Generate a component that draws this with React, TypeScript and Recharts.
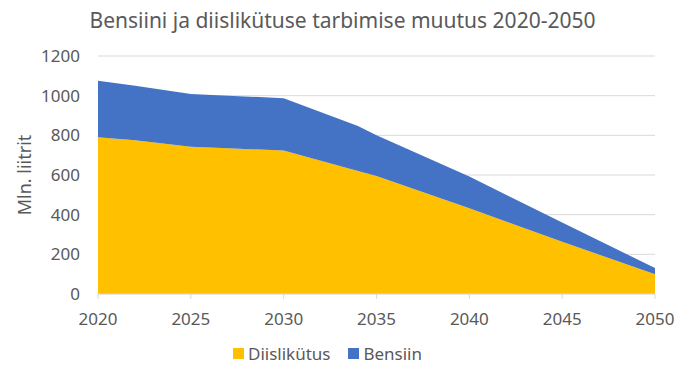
import { Area, AreaChart, CartesianGrid, Legend, XAxis, YAxis } from "recharts";

const years = [2020, 2022, 2025, 2027, 2030, 2034, 2035, 2040, 2045, 2050];
const diisel = [790, 775, 743, 735, 723, 620, 595, 432, 264, 99];
const bensiin = [285, 275, 265, 265, 264, 227, 206, 160, 96, 32];
const xTicks = [2020, 2025, 2030, 2035, 2040, 2045, 2050];
const yTicks = [0, 200, 400, 600, 800, 1000, 1200];
const series = [
    { key: "Diislikütus", color: "#ffc000" },
    { key: "Bensiin", color: "#4472c4" },
];

const data = years.map((y, i) => ({ year: y, Diislikütus: diisel[i], Bensiin: bensiin[i] }));

const font = "'Noto Sans', 'Open Sans', sans-serif";
const grey = "#595959";

const LegendBox = () => (
    <div style={{ height: 30, display: "flex", justifyContent: "center", alignItems: "center", gap: 18, fontSize: 17, fontFamily: font, color: grey }}>
        {series.map(s => (
            <div key={s.key} style={{ display: "flex", alignItems: "center", gap: 4 }}>
                <div style={{ width: 11, height: 11, background: s.color }} />
                <span>{s.key}</span>
            </div>
        ))}
    </div>
);

export default function App() {
    return (
        <div style={{ position: "absolute", left: 0, top: 0, width: 685, height: 376, background: "#fff", fontFamily: font }}>
            <div style={{ position: "absolute", top: 6, width: "100%", textAlign: "center", fontSize: 21, color: grey }}>
                Bensiini ja diislikütuse tarbimise muutus 2020-2050
            </div>
            <AreaChart width={685} height={376} data={data} margin={{ top: 56, right: 30, left: 0, bottom: 8 }}>
                <CartesianGrid vertical={false} stroke="#d9d9d9" />
                <XAxis
                    dataKey="year"
                    type="number"
                    domain={[2020, 2050]}
                    ticks={xTicks}
                    stroke="#d9d9d9"
                    tickLine={{ stroke: "#d9d9d9" }}
                    tickSize={5}
                    tick={{ fill: grey, fontSize: 17, fontFamily: font }}
                    tickMargin={14}
                    height={44}
                />
                <YAxis
                    domain={[0, 1200]}
                    ticks={yTicks}
                    axisLine={false}
                    tickLine={false}
                    width={98}
                    tick={{ fill: grey, fontSize: 17, fontFamily: font }}
                    tickMargin={12}
                    label={{ value: "Mln. liitrit", angle: -90, position: "insideLeft", offset: 25, style: { fill: grey, fontSize: 18, fontFamily: font, textAnchor: "middle" } }}
                />
                <Legend verticalAlign="bottom" height={30} content={<LegendBox />} />
                {series.map(s => (
                    <Area key={s.key} type="linear" dataKey={s.key} stackId="a" stroke="none" fill={s.color} fillOpacity={1} isAnimationActive={false} />
                ))}
            </AreaChart>
        </div>
    );
}
